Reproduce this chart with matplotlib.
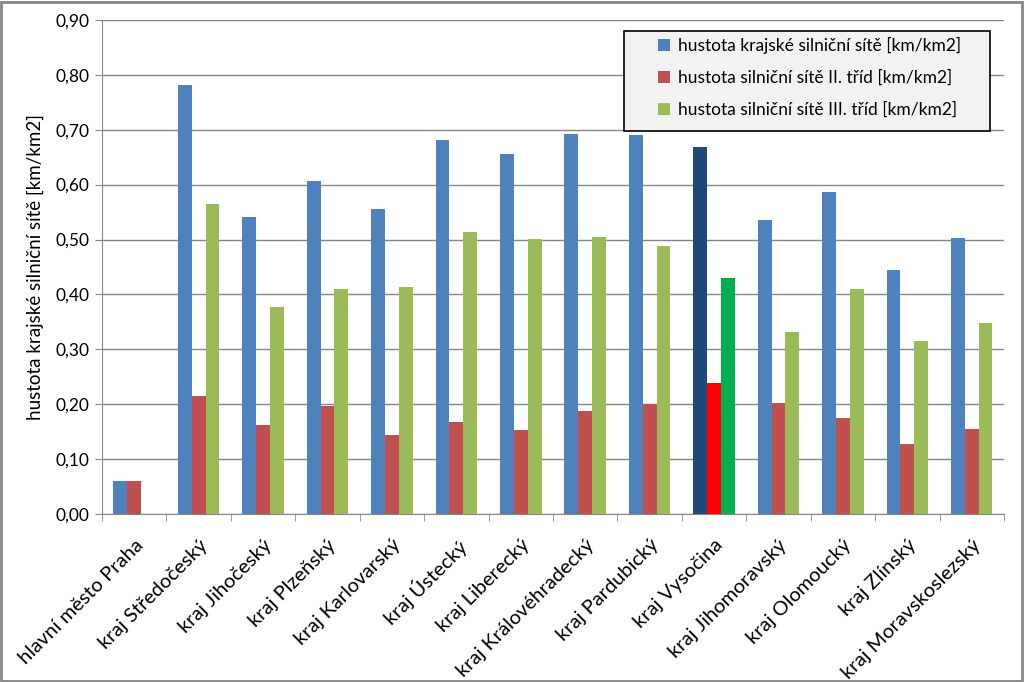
import matplotlib
matplotlib.use("Agg")
from matplotlib import pyplot as plt
from matplotlib.patches import Rectangle
from matplotlib.ticker import FuncFormatter
import numpy as np

plt.rcParams['font.family'] = ['Lato', 'DejaVu Sans']

regions = ['hlavní město Praha', 'kraj Středočeský', 'kraj Jihočeský', 'kraj Plzeňský',
           'kraj Karlovarský', 'kraj Ústecký', 'kraj Liberecký', 'kraj Královéhradecký',
           'kraj Pardubický', 'kraj Vysočina', 'kraj Jihomoravský', 'kraj Olomoucký',
           'kraj Zlínský', 'kraj Moravskoslezský']

# hustota krajské silniční sítě (II. + III. třídy)
dens_total = [0.060, 0.782, 0.541, 0.607, 0.555, 0.682, 0.655, 0.692,
              0.691, 0.669, 0.536, 0.587, 0.444, 0.503]
dens_class2 = [0.060, 0.216, 0.162, 0.197, 0.144, 0.168, 0.153, 0.188,
               0.201, 0.239, 0.203, 0.175, 0.128, 0.155]
dens_class3 = [0.0, 0.565, 0.377, 0.410, 0.413, 0.514, 0.501, 0.505,
               0.488, 0.430, 0.332, 0.410, 0.315, 0.348]

series_names = ['hustota krajské silniční sítě [km/km2]',
                'hustota silniční sítě II. tříd [km/km2]',
                'hustota silniční sítě III. tříd [km/km2]']

colors = ['#4F81BD', '#C0504D', '#9BBB59']
# Vysočina is highlighted
highlight = 'kraj Vysočina'
highlight_colors = ['#1F497D', '#FF0000', '#00B050']

fig = plt.figure(figsize=(10.24, 6.82), dpi=100)
ax = fig.add_axes([0.0996, 0.246, 0.8808, 0.725])

x = np.arange(len(regions))
w = 0.215
hi = regions.index(highlight)
for k, vals in enumerate([dens_total, dens_class2, dens_class3]):
    cols = [highlight_colors[k] if i == hi else colors[k] for i in range(len(regions))]
    ax.bar(x + (k - 1) * w, vals, w, color=cols, label=series_names[k], zorder=3)

ax.set_xlim(-0.5, len(regions) - 0.5)
ax.set_ylim(0, 0.9)
ax.set_yticks(np.arange(0, 0.91, 0.1))
ax.yaxis.set_major_formatter(FuncFormatter(lambda v, p: f'{v:.2f}'.replace('.', ',')))
ax.grid(axis='y', color='#868686', linewidth=1, zorder=0)

ax.set_xticks(x)
ax.set_xticklabels(regions, rotation=45, ha='right', rotation_mode='anchor', fontsize=14.5)
ax.tick_params(axis='x', length=0, pad=16)
ax.set_xticks(np.arange(-0.5, len(regions), 1), minor=True)
ax.tick_params(axis='x', which='minor', length=5, color='#868686')
ax.tick_params(axis='y', length=5, color='#868686', labelsize=12.5, pad=4)

for s in ['top', 'right']:
    ax.spines[s].set_visible(False)
for s in ['left', 'bottom']:
    ax.spines[s].set_color('#868686')

ax.set_ylabel('hustota krajské silniční sítě [km/km2]', fontsize=13.5, labelpad=8)

# legend box
ax.add_patch(Rectangle((624 / 1024, 1 - 131 / 682), 366 / 1024, 100 / 682,
                       transform=fig.transFigure, facecolor='#F2F2F2',
                       edgecolor='black', linewidth=1.2, zorder=4, clip_on=False))
leg = ax.legend(loc='upper left', bbox_to_anchor=(658 / 1024, 1 - 37 / 682),
                bbox_transform=fig.transFigure, fontsize=12.5, frameon=False,
                handlelength=0.7, handleheight=0.7, labelspacing=0.9,
                borderpad=0, handletextpad=0.45, borderaxespad=0)
leg.set_zorder(5)

fig.patches.append(Rectangle((0.001, 0.0015), 0.997, 0.996, transform=fig.transFigure,
                             fill=False, edgecolor='#868686', linewidth=2))

fig.savefig('out.png', dpi=100)
